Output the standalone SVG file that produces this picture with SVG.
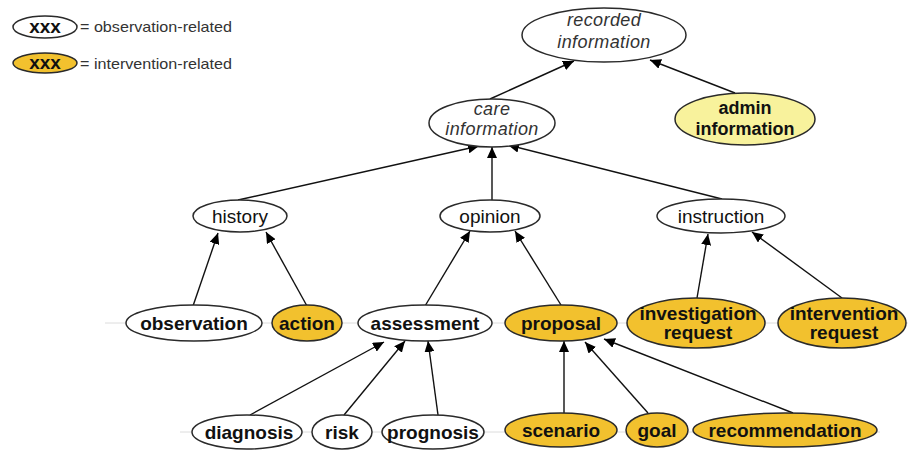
<svg xmlns="http://www.w3.org/2000/svg" width="908" height="451" viewBox="0 0 908 451">
<style>
.n{stroke:#2a2a2a;stroke-width:1.5}
.w{fill:#ffffff}
.o{fill:#f2c12e}
.y{fill:#f8f29c}
text{font-family:"Liberation Sans",Arial,sans-serif;fill:#111;text-anchor:middle}
.b{font-weight:bold;font-size:19px}
.r{font-size:19px}
.i{font-style:italic;font-size:18px;letter-spacing:0.4px;fill:#333}
.lg{font-size:15px;text-anchor:start;fill:#333}
.e{stroke:#111;stroke-width:1.4;fill:none}
.f{stroke:#dcdcdc;stroke-width:1;fill:none}
</style>
<defs>
<marker id="ah" markerUnits="userSpaceOnUse" markerWidth="11" markerHeight="10" refX="11" refY="5" orient="auto">
<path d="M0,0 L11,5 L0,10 z" fill="#000"/>
</marker>
</defs>
<rect width="908" height="451" fill="#fff"/>
<g id="legend">
<ellipse class="n w" cx="45" cy="27" rx="32" ry="11"/>
<text class="b" x="45" y="33">xxx</text>
<text class="lg" x="80" y="32" textLength="152" lengthAdjust="spacingAndGlyphs">= observation-related</text>
<ellipse class="n o" cx="45" cy="63" rx="32" ry="10"/>
<text class="b" x="45" y="69">xxx</text>
<text class="lg" x="80" y="69" textLength="152" lengthAdjust="spacingAndGlyphs">= intervention-related</text>
</g>
<g id="connectors">
<path class="f" d="M105,323 H908 M180,432 H880"/>
<path class="e" marker-end="url(#ah)" d="M490,99 L574,61"/>
<path class="e" marker-end="url(#ah)" d="M735,93 L650,60"/>
<path class="e" marker-end="url(#ah)" d="M238,200 L479,146"/>
<path class="e" marker-end="url(#ah)" d="M492,200 L492,147"/>
<path class="e" marker-end="url(#ah)" d="M722,199 L508,145"/>
<path class="e" marker-end="url(#ah)" d="M193,306 L218,233"/>
<path class="e" marker-end="url(#ah)" d="M307,306 L266,232"/>
<path class="e" marker-end="url(#ah)" d="M425,306 L470,231"/>
<path class="e" marker-end="url(#ah)" d="M561,305 L515,231"/>
<path class="e" marker-end="url(#ah)" d="M697,298 L708,234"/>
<path class="e" marker-end="url(#ah)" d="M842,298 L752,232"/>
<path class="e" marker-end="url(#ah)" d="M250,415 L384,342"/>
<path class="e" marker-end="url(#ah)" d="M344,415 L405,341"/>
<path class="e" marker-end="url(#ah)" d="M438,415 L428,341"/>
<path class="e" marker-end="url(#ah)" d="M564,413 L564,341"/>
<path class="e" marker-end="url(#ah)" d="M648,413 L585,342"/>
<path class="e" marker-end="url(#ah)" d="M793,413 L604,339"/>
</g>
<g id="recorded-information">
<ellipse class="n w" cx="604" cy="35" rx="82" ry="27"/>
<text class="i" x="604" y="26">recorded</text>
<text class="i" x="604" y="48">information</text>
</g>
<g id="admin-information">
<ellipse class="n y" cx="745" cy="119" rx="70" ry="26"/>
<text class="b" x="745" y="114" style="font-size:18px">admin</text>
<text class="b" x="745" y="135" style="font-size:18px">information</text>
</g>
<g id="care-information">
<ellipse class="n w" cx="492" cy="123" rx="63" ry="24"/>
<text class="i" x="492" y="115">care</text>
<text class="i" x="492" y="135">information</text>
</g>
<g id="history">
<ellipse class="n w" cx="240" cy="216" rx="47" ry="16"/>
<text class="r" x="240" y="223">history</text>
</g>
<g id="opinion">
<ellipse class="n w" cx="490" cy="216" rx="50" ry="16"/>
<text class="r" x="490" y="223">opinion</text>
</g>
<g id="instruction">
<ellipse class="n w" cx="721" cy="216" rx="64" ry="17"/>
<text class="r" x="721" y="223">instruction</text>
</g>
<g id="observation">
<ellipse class="n w" cx="194" cy="323" rx="68" ry="18"/>
<text class="b" x="194" y="330">observation</text>
</g>
<g id="action">
<ellipse class="n o" cx="307" cy="323" rx="35" ry="18"/>
<text class="b" x="307" y="330">action</text>
</g>
<g id="assessment">
<ellipse class="n w" cx="425" cy="323" rx="67" ry="18"/>
<text class="b" x="425" y="330">assessment</text>
</g>
<g id="proposal">
<ellipse class="n o" cx="561" cy="323" rx="56" ry="18"/>
<text class="b" x="561" y="330">proposal</text>
</g>
<g id="investigation-request">
<ellipse class="n o" cx="696" cy="323" rx="69" ry="25"/>
<text class="b" x="698" y="320">investigation</text>
<text class="b" x="698" y="339">request</text>
</g>
<g id="intervention-request">
<ellipse class="n o" cx="842" cy="323" rx="64" ry="25"/>
<text class="b" x="844" y="320">intervention</text>
<text class="b" x="844" y="339">request</text>
</g>
<g id="diagnosis">
<ellipse class="n w" cx="247" cy="432" rx="55" ry="17"/>
<text class="b" x="249" y="439">diagnosis</text>
</g>
<g id="risk">
<ellipse class="n w" cx="342" cy="432" rx="30" ry="17"/>
<text class="b" x="342" y="439">risk</text>
</g>
<g id="prognosis">
<ellipse class="n w" cx="433" cy="432" rx="51" ry="17"/>
<text class="b" x="433" y="439">prognosis</text>
</g>
<g id="scenario">
<ellipse class="n o" cx="561" cy="430" rx="56" ry="17"/>
<text class="b" x="561" y="437">scenario</text>
</g>
<g id="goal">
<ellipse class="n o" cx="657" cy="430" rx="31" ry="17"/>
<text class="b" x="657" y="437">goal</text>
</g>
<g id="recommendation">
<ellipse class="n o" cx="785" cy="430" rx="92" ry="17"/>
<text class="b" x="785" y="437">recommendation</text>
</g>
</svg>
